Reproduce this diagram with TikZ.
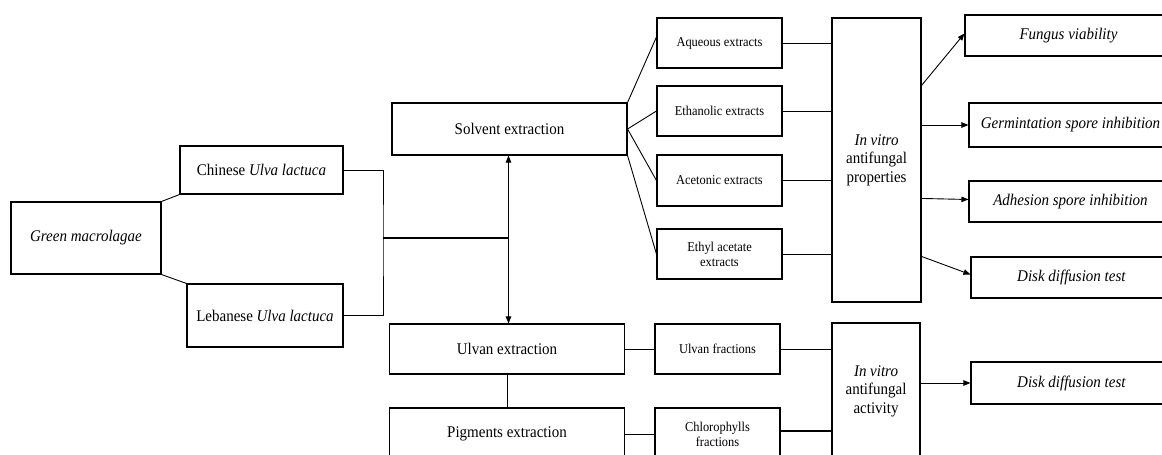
\documentclass[tikz,border=0pt]{standalone}
\usepackage{fontspec}
\setmainfont{Liberation Serif}[FakeStretch=0.92]
\usetikzlibrary{arrows.meta,calc}
\newcommand\bigfs{\fontsize{16.3}{18.5}\selectfont}
\newcommand\smallfs{\fontsize{13.5}{15}\selectfont}
\tikzset{
  box/.style={draw, line width=1.1pt, inner sep=0pt, align=center, font=\bigfs},
  sbox/.style={box, font=\smallfs},
  ln/.style={line width=0.9pt},
  tk/.style={line width=1.8pt},
  arr/.style={ln, -{Triangle[length=7pt,width=5.5pt]}},
  darr/.style={ln, {Triangle[length=7pt,width=5.5pt]}-{Triangle[length=7pt,width=5.5pt]}},
}
\begin{document}
\begin{tikzpicture}[x=1pt,y=-1pt]
\useasboundingbox (0,0) rectangle (1162,455);
\clip (0,0) rectangle (1162,455);
% left part
\node[box, minimum width=150pt, minimum height=72pt] (green) at (86,238) {\textit{Green macrolagae}};
\node[box, minimum width=163pt, minimum height=48pt] (chin) at (261.5,170) {Chinese \textit{Ulva lactuca}};
\node[box, minimum width=156pt, minimum height=63pt] (leb) at (265,315.5) {Lebanese \textit{Ulva lactuca}};
% extraction boxes
\node[box, minimum width=235pt, minimum height=52pt] (solv) at (509.5,129) {Solvent extraction};
\node[box, minimum width=235pt, minimum height=50pt] (ulvext) at (507,349) {Ulvan extraction};
\node[box, minimum width=235pt, minimum height=52pt] (pigm) at (507,434) {Pigments extraction};
% extracts
\node[sbox, minimum width=125pt, minimum height=50pt] (aq) at (719.5,43) {Aqueous extracts};
\node[sbox, minimum width=125pt, minimum height=50pt] (eth) at (719.5,111) {Ethanolic extracts};
\node[sbox, minimum width=125pt, minimum height=51pt] (ace) at (719.5,180.5) {Acetonic extracts};
\node[sbox, minimum width=125pt, minimum height=50pt] (ethyl) at (719.5,254) {Ethyl acetate\\extracts};
\node[sbox, minimum width=125pt, minimum height=50pt] (ulvfrac) at (717.5,349) {Ulvan fractions};
\node[sbox, minimum width=125pt, minimum height=52pt] (chlor) at (717.5,434) {Chlorophylls\\fractions};
% in vitro boxes
\node[box, minimum width=89pt, minimum height=284pt] (props) at (876.5,160) {\textit{In vitro}\\antifungal\\properties};
\node[box, minimum width=88pt, minimum height=136pt] (activ) at (876,391) {\textit{In vitro}\\antifungal\\activity};
% outcome boxes
\node[box, minimum width=207pt, minimum height=41pt] (fung) at (1068.5,35.5) {\textit{Fungus viability}};
\node[box, minimum width=203pt, minimum height=44pt] (germ) at (1070.5,125) {\textit{Germintation spore inhibition}};
\node[box, minimum width=203pt, minimum height=41pt] (adh) at (1070.5,201.5) {\textit{Adhesion spore inhibition}};
\node[box, minimum width=201pt, minimum height=41pt] (disk) at (1071.5,277.5) {\textit{Disk diffusion test}};
\node[box, minimum width=201pt, minimum height=42pt] (disktwo) at (1071.5,383) {\textit{Disk diffusion test}};
% junctions
\coordinate (jc) at (383,238);
\coordinate (jm) at (508.5,238);
% connectors left
\draw[ln] (green.north east) -- (chin.south west);
\draw[ln] (green.south east) -- (leb.north west);
\draw[ln] (chin.east) -| (jc) |- (leb.east);
\draw[tk] (jc) -- (jm);
\draw[darr] (solv.south -| jm) -- (ulvext.north -| jm);
\draw[ln] (ulvext.south) -- (pigm.north);
% solvent fan
\draw[ln] (solv.north east) -- ([yshift=6pt]aq.west);
\draw[ln] (solv.east) -- (eth.west);
\draw[ln] (solv.east) -- (ace.west);
\draw[ln] (solv.south east) -- (ethyl.west);
% extracts to properties
\draw[ln] (aq.east) -- (aq.east -| props.west);
\draw[ln] (eth.east) -- (eth.east -| props.west);
\draw[tk] (ace.east) -- (ace.east -| props.west);
\draw[ln] (ethyl.east) -- (ethyl.east -| props.west);
% properties to outcomes
\draw[arr] ($(props.north east)+(0,68)$) -- ([yshift=2pt]fung.west);
\draw[arr] (props.east |- germ.west) -- (germ.west);
\draw[arr] ($(props.north east)+(0,181)$) -- ([yshift=2pt]adh.west);
\draw[arr] ($(props.north east)+(0,239)$) -- ([yshift=3pt]disk.west);
% bottom row
\draw[ln] (ulvext.east) -- (ulvfrac.west);
\draw[ln] (pigm.east) -- (chlor.west);
\draw[ln] (ulvfrac.east) -- (ulvfrac.east -| activ.west);
\draw[tk] ([yshift=3pt]chlor.east) -- ([yshift=3pt]chlor.east -| activ.west);
\draw[arr] (activ.east |- disktwo.west) -- (disktwo.west);
\end{tikzpicture}
\end{document}
